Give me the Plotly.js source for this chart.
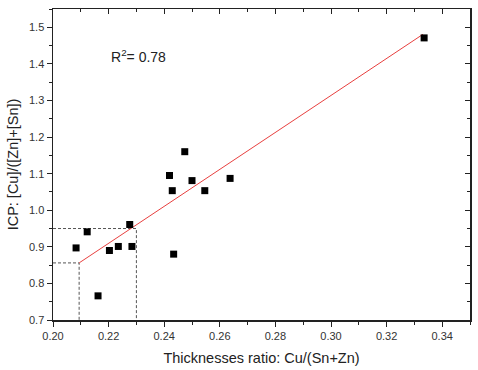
<!DOCTYPE html>
<html>
<head>
<meta charset="utf-8">
<script src="https://cdn.plot.ly/plotly-3.0.1.min.js"></script>
<style>html,body{margin:0;padding:0;background:#fff;}#chart{width:478px;height:370px;}</style>
</head>
<body>
<div id="chart"></div>
<script>
// Measured data points
var thicknessRatio = [0.2083, 0.2123, 0.2162, 0.2203, 0.2235, 0.2276, 0.2284, 0.2419, 0.2429, 0.2434, 0.2474, 0.2500, 0.2546, 0.2637, 0.3335];
var icpRatio       = [0.897, 0.941, 0.766, 0.890, 0.901, 0.961, 0.901, 1.095, 1.0535, 0.880, 1.160, 1.081, 1.0535, 1.087, 1.471];

// Linear fit endpoints
var fitX = [0.2094, 0.3331];
var fitY = [0.856, 1.481];

// Guide (dashed) lines
var guide1X = [0.20, 0.2094, 0.2094];
var guide1Y = [0.856, 0.856, 0.70];
var guide2X = [0.20, 0.230, 0.230];
var guide2Y = [0.950, 0.950, 0.70];

var xTickVals = [0.20, 0.22, 0.24, 0.26, 0.28, 0.30, 0.32, 0.34];
var xTickText = ['0.20', '0.22', '0.24', '0.26', '0.28', '0.30', '0.32', '0.34'];
var yTickVals = [0.7, 0.8, 0.9, 1.0, 1.1, 1.2, 1.3, 1.4, 1.5];
var yTickText = ['0.7', '0.8', '0.9', '1.0', '1.1', '1.2', '1.3', '1.4', '1.5'];

var xRange = [0.20, 0.35];
var yRange = [0.70, 1.55];

var guideStyle = {color: '#555', width: 1, dash: '3px,2px'};

var traces = [
  {x: guide1X, y: guide1Y, mode: 'lines', line: guideStyle, hoverinfo: 'skip', showlegend: false},
  {x: guide2X, y: guide2Y, mode: 'lines', line: guideStyle, hoverinfo: 'skip', showlegend: false},
  {x: fitX, y: fitY, mode: 'lines', line: {color: '#e8403f', width: 1}, showlegend: false},
  {x: thicknessRatio, y: icpRatio, mode: 'markers', type: 'scatter',
   marker: {symbol: 'square', size: 7, color: '#000'}, showlegend: false},
  {x: [], y: [], xaxis: 'x2', yaxis: 'y2', mode: 'markers', showlegend: false}
];

var fontFam = 'Liberation Sans, Arial, sans-serif';

var layout = {
  width: 478, height: 370,
  margin: {l: 53, r: 8, t: 9, b: 50},
  paper_bgcolor: '#fff', plot_bgcolor: '#fff',
  font: {family: fontFam, color: '#222', size: 11},
  showlegend: false,
  xaxis: {
    range: xRange, tickvals: xTickVals, ticktext: xTickText,
    ticks: 'outside', ticklen: 5, tickwidth: 1, tickcolor: '#222',
    minor: {ticks: 'outside', dtick: 0.01, ticklen: 3, tickwidth: 1, tickcolor: '#222', showgrid: false},
    showline: true, linecolor: '#222', linewidth: 1.5,
    showgrid: false, zeroline: false,
    tickfont: {size: 11, family: fontFam, color: '#333'},
    title: {text: 'Thicknesses ratio: Cu/(Sn+Zn)', font: {size: 14.5, family: fontFam, color: '#222'}, standoff: 12}
  },
  yaxis: {
    range: yRange, tickvals: yTickVals, ticktext: yTickText,
    ticks: 'outside', ticklen: 5, tickwidth: 1, tickcolor: '#222',
    minor: {ticks: 'outside', dtick: 0.05, ticklen: 3, tickwidth: 1, tickcolor: '#222', showgrid: false},
    showline: true, linecolor: '#222', linewidth: 1.5,
    showgrid: false, zeroline: false,
    tickfont: {size: 11, family: fontFam, color: '#333'},
    title: {text: 'ICP: [Cu]/([Zn]+[Sn])', font: {size: 14.5, family: fontFam, color: '#222'}, standoff: 7}
  },
  xaxis2: {
    overlaying: 'x', side: 'top', anchor: 'y2', range: xRange,
    tickvals: xTickVals, showticklabels: false,
    ticks: 'inside', ticklen: 5, tickwidth: 1, tickcolor: '#222',
    minor: {ticks: 'inside', dtick: 0.01, ticklen: 3, tickwidth: 1, tickcolor: '#222', showgrid: false},
    showline: true, linecolor: '#222', linewidth: 1.5, showgrid: false, zeroline: false
  },
  yaxis2: {
    overlaying: 'y', side: 'right', anchor: 'x2', range: yRange,
    tickvals: yTickVals, showticklabels: false,
    ticks: 'inside', ticklen: 5, tickwidth: 1, tickcolor: '#222',
    minor: {ticks: 'inside', dtick: 0.05, ticklen: 3, tickwidth: 1, tickcolor: '#222', showgrid: false},
    showline: true, linecolor: '#222', linewidth: 1.5, showgrid: false, zeroline: false
  },
  annotations: [{
    xref: 'x', yref: 'y', x: 0.2202, y: 1.421, xanchor: 'left', yanchor: 'middle',
    text: 'R<sup>2</sup>= 0.78', showarrow: false,
    font: {size: 14, family: fontFam, color: '#222'}
  }]
};

Plotly.newPlot('chart', traces, layout, {displayModeBar: false, staticPlot: true});
</script>
</body>
</html>
